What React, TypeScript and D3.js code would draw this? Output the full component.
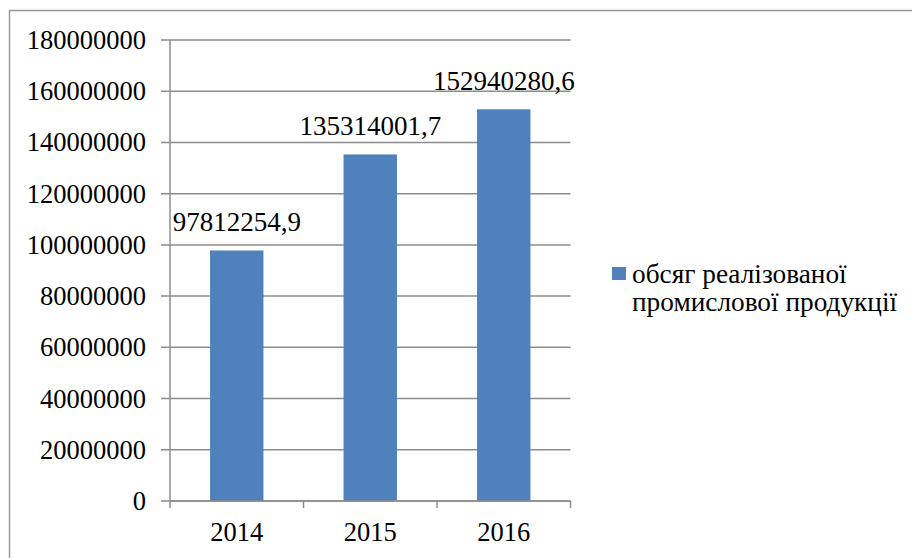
import React from "react";
import * as d3 from "d3";

// chart values
const years = ["2014", "2015", "2016"];
const volumes = [97812254.9, 135314001.7, 152940280.6];
const valueLabels = ["97812254,9", "135314001,7", "152940280,6"];
const yTicks = [0, 20000000, 40000000, 60000000, 80000000, 100000000, 120000000, 140000000, 160000000, 180000000];
const legendLines = ["обсяг реалізованої", "промислової продукції"];

const W = 912;
const H = 558;
const font = "'Liberation Serif', 'Times New Roman', serif";
const gray = "#8c8c8c";
const barColor = "#4F81BD";

export default function App() {
  const left = 170;
  const right = 570.5;
  const top = 40;
  const bottom = 501;

  // x scale (categories)
  const xScale = d3.scaleBand<string>().domain(years).range([left, right]).paddingInner(0.6).paddingOuter(0.3);

  // y scale
  const yScale = d3.scaleLinear().domain([0, 180000000]).range([bottom, top]);

  const step = xScale.step();
  const catEdges = d3.range(years.length + 1).map((i) => left + i * step);

  return (
    <svg
      width={W}
      height={H}
      style={{ position: "absolute", left: 0, top: 0, background: "#fff" }}
      fontFamily={font}
    >
      {/* outer frame, runs off the right and bottom edges */}
      <rect x={9.5} y={10.5} width={1000} height={1000} fill="none" stroke="#999" strokeWidth={1.5} />

      {/* gridlines + y ticks */}
      {yTicks.map((t) => (
        <g key={t}>
          <line x1={left - 9} x2={right} y1={yScale(t)} y2={yScale(t)} stroke={gray} strokeWidth={1.5} />
          <text x={146} y={yScale(t) + 9} textAnchor="end" fontSize={26.5} fill="#000">
            {t}
          </text>
        </g>
      ))}

      {/* y axis line */}
      <line x1={left} x2={left} y1={top} y2={bottom} stroke={gray} strokeWidth={1.5} />

      {/* bars */}
      {years.map((y, i) => (
        <rect
          key={y}
          x={xScale(y)}
          y={yScale(volumes[i])}
          width={xScale.bandwidth()}
          height={bottom - yScale(volumes[i])}
          fill={barColor}
        />
      ))}

      {/* x axis + category ticks */}
      <line x1={left} x2={right} y1={bottom} y2={bottom} stroke={gray} strokeWidth={1.5} />
      {catEdges.map((x, i) => (
        <line key={i} x1={x} x2={x} y1={bottom} y2={bottom + 7} stroke={gray} strokeWidth={1.5} />
      ))}
      {years.map((y) => (
        <text key={y} x={xScale(y)! + xScale.bandwidth() / 2} y={541} textAnchor="middle" fontSize={26.5} fill="#000">
          {y}
        </text>
      ))}

      {/* value labels */}
      {years.map((y, i) => (
        <text
          key={"v" + y}
          x={xScale(y)! + xScale.bandwidth() / 2}
          y={yScale(volumes[i]) - 19}
          textAnchor="middle"
          fontSize={27}
          fill="#000"
        >
          {valueLabels[i]}
        </text>
      ))}

      {/* legend */}
      <rect x={612} y={267} width={14} height={13} fill={barColor} />
      {legendLines.map((l, i) => (
        <text key={i} x={632} y={283 + i * 28} fontSize={27.3} fill="#000">
          {l}
        </text>
      ))}
    </svg>
  );
}
